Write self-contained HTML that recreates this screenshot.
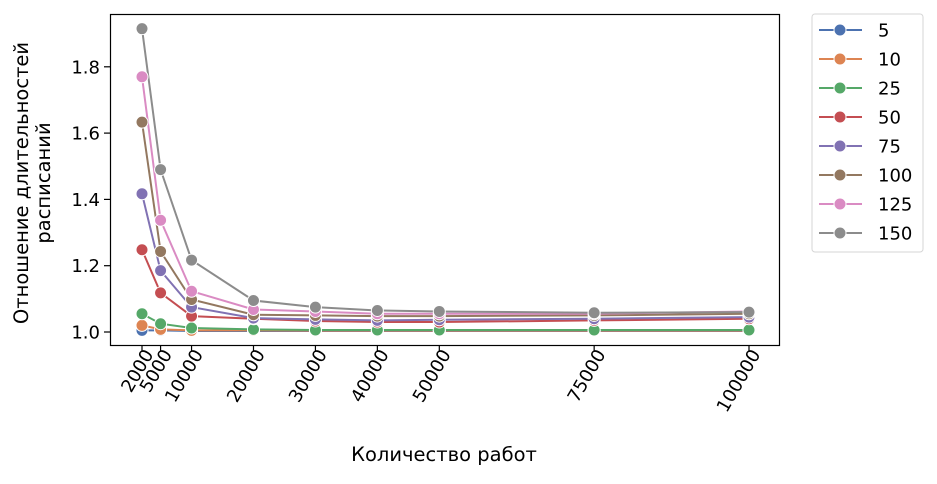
<!DOCTYPE html>
<html><head><meta charset="utf-8"><style>
body{margin:0;background:#fff;width:937px;height:479px;overflow:hidden}
text{font-family:"DejaVu Sans","Liberation Sans",sans-serif;fill:#000}
</style></head><body>
<svg id="chart" width="937" height="479" xmlns="http://www.w3.org/2000/svg">
<g id="plot"></g>
<rect x="110.5" y="14.5" width="669" height="331" fill="none" stroke="#000" stroke-width="1.2"/>
<text x="444" y="461" font-size="19.5" text-anchor="middle">Количество работ</text>
<text transform="translate(28,183) rotate(-90)" font-size="19.5" text-anchor="middle">Отношение длительностей</text>
<text transform="translate(50,183) rotate(-90)" font-size="19.5" text-anchor="middle">расписаний</text>
<g id="legend"></g>
</svg>
<script>
const xValues=[2000,5000,10000,20000,30000,40000,50000,75000,100000];
const seriesNames=["5","10","25","50","75","100","125","150"];
const colors=["#4c72b0","#dd8452","#55a868","#c44e52","#8172b3","#937860","#da8bc3","#8c8c8c"];
const s5=[1.005,1.005,1.003,1.003,1.003,1.003,1.003,1.003,1.003];
const s10=[1.02,1.008,1.005,1.005,1.004,1.004,1.004,1.004,1.004];
const s25=[1.055,1.025,1.012,1.008,1.006,1.006,1.006,1.006,1.006];
const s50=[1.248,1.118,1.048,1.04,1.033,1.03,1.03,1.035,1.04];
const s75=[1.417,1.185,1.075,1.042,1.038,1.035,1.037,1.04,1.045];
const s100=[1.633,1.243,1.098,1.052,1.05,1.048,1.048,1.05,1.055];
const s125=[1.77,1.337,1.123,1.068,1.062,1.055,1.055,1.055,1.062];
const s150=[1.915,1.49,1.217,1.095,1.075,1.065,1.062,1.058,1.06];
const yTicks=[1.0,1.2,1.4,1.6,1.8];
const xTicks=[2000,5000,10000,20000,30000,40000,50000,75000,100000];
const series=[s5,s10,s25,s50,s75,s100,s125,s150];
const NS="http://www.w3.org/2000/svg";
const X=v=>142+(v-2000)*(749-142)/98000;
const Y=v=>332-(v-1)*331.5;
const plot=document.getElementById('plot');
function mk(t,a,p){const e=document.createElementNS(NS,t);for(const k in a)e.setAttribute(k,a[k]);(p||plot).appendChild(e);return e;}
yTicks.forEach(t=>{
 const l=mk('line',{x1:104,x2:110,y1:Y(t),y2:Y(t),stroke:'#000','stroke-width':1.2});
 
 
 const tx=mk('text',{x:100,y:Y(t)+6.5,'font-size':18,'text-anchor':'end'});
 
 
 tx.textContent=t.toFixed(1);
});
xTicks.forEach(t=>{
 const l=mk('line',{x1:X(t),x2:X(t),y1:346,y2:352,stroke:'#000','stroke-width':1.2});
 
 
 const tx=mk('text',{transform:`translate(${X(t)+12},354) rotate(-60)`,'font-size':18,'text-anchor':'end'});
 
 
 tx.textContent=t;
});
series.forEach((s,i)=>{
 const pl=mk('polyline',{points:s.map((v,j)=>X(xValues[j])+','+Y(v)).join(' '),fill:'none',stroke:colors[i],'stroke-width':2});
 
 
});
series.forEach((s,i)=>{
 s.forEach((v,j)=>{
  const c=mk('circle',{cx:X(xValues[j]),cy:Y(v),r:6,fill:colors[i],stroke:'#fff','stroke-width':1});
  
  
 });
});
const lg=document.getElementById('legend');
mk('rect',{x:812,y:14,width:111,height:238,rx:3,fill:'#fff',stroke:'#d6d6d6','stroke-width':1},lg);
seriesNames.forEach((n,i)=>{
 const y=30+i*29;
 const g=mk('g',{},lg);
 
 
 mk('line',{x1:819,x2:862,y1:y,y2:y,stroke:colors[i],'stroke-width':2},g);
 mk('circle',{cx:840,cy:y,r:6,fill:colors[i],stroke:'#fff','stroke-width':1},g);
 const t=mk('text',{x:878,y:y+6.5,'font-size':18},g);
 t.textContent=n;
});
</script>
</body></html>
